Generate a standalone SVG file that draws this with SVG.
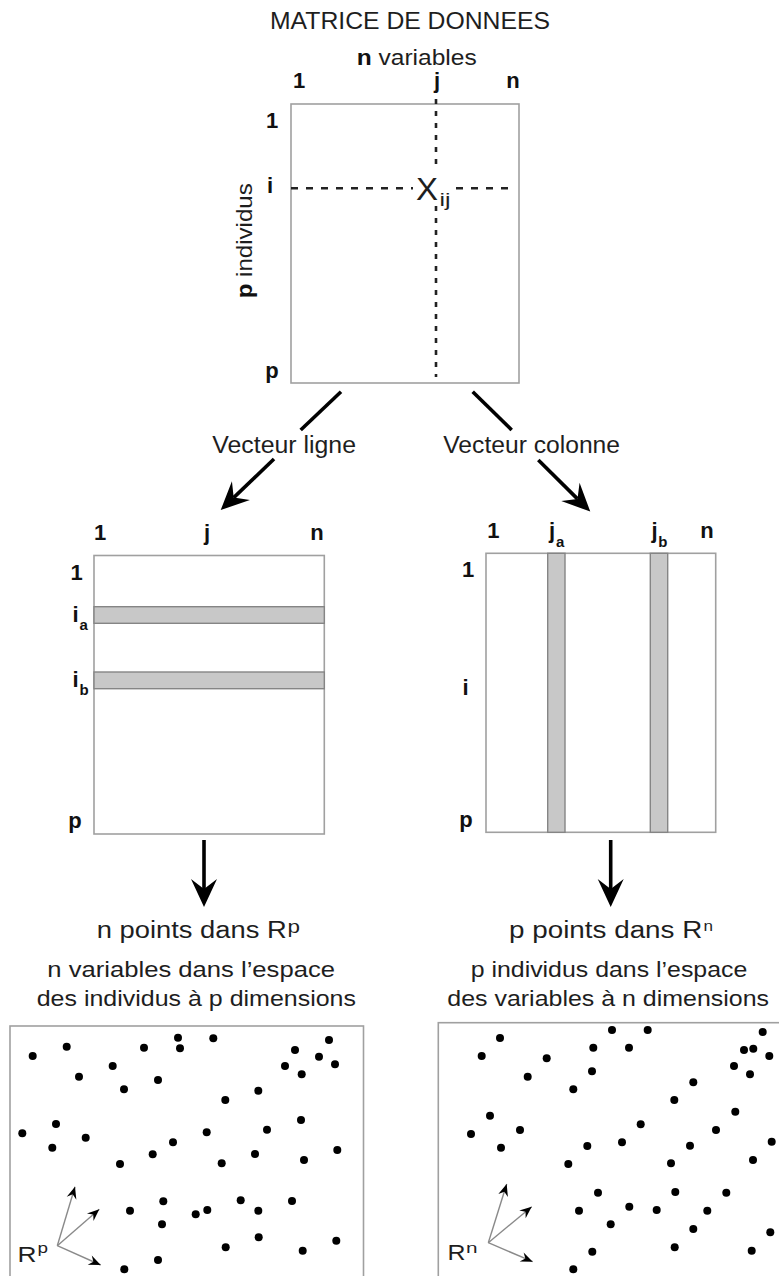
<svg xmlns="http://www.w3.org/2000/svg" width="779" height="1276" viewBox="0 0 779 1276">
<style>
text{font-family:"Liberation Sans",Arial,sans-serif;fill:#1e1e1e}
.b{font-weight:bold;fill:#111}
.lbl{font-size:22px}
.mid{text-anchor:middle}
.box{fill:#fff;stroke:#a0a0a0;stroke-width:1.6}
.stripe{fill:#c8c8c8;stroke:#858585;stroke-width:1.4}
.arrow{stroke:#000;stroke-width:3.6;fill:none}
.axis{stroke:#8a8a8a;stroke-width:1.4;fill:none}
.dash{stroke:#222;stroke-width:2.6;fill:none}
.dot{fill:#000}
</style>
<defs>
<marker id="big" markerUnits="userSpaceOnUse" markerWidth="40" markerHeight="30" viewBox="-12 -15 32 30" refX="0" refY="0" orient="auto" overflow="visible">
<path d="M-10,-13 L18,0 L-10,13 L0,0 Z" fill="#000"/>
</marker>
<marker id="small" markerUnits="userSpaceOnUse" markerWidth="16" markerHeight="12" viewBox="-13 -6 15 12" refX="0" refY="0" orient="auto" overflow="visible">
<path d="M0,0 L-12,-5 L-8,0 L-12,5 Z" fill="#000"/>
</marker>
</defs>
<rect width="779" height="1276" fill="#fff"/>

<g id="title">
<text x="270" y="28.5" font-size="23" textLength="280" lengthAdjust="spacingAndGlyphs">MATRICE DE DONNEES</text>
</g>

<g id="data-matrix">
<text x="356.7" y="65" font-size="22.5" textLength="120" lengthAdjust="spacingAndGlyphs"><tspan class="b">n</tspan> variables</text>
<rect class="box" x="291" y="104" width="228" height="279"/>
<text class="b lbl mid" x="299" y="88">1</text>
<text class="b lbl mid" x="437" y="88">j</text>
<text class="b lbl mid" x="513" y="88">n</text>
<text class="b lbl mid" x="272" y="128">1</text>
<text class="b lbl mid" x="270" y="193">i</text>
<text class="b lbl mid" x="272" y="378">p</text>
<text transform="translate(252,298.3) rotate(-90)" font-size="22.5" textLength="115" lengthAdjust="spacingAndGlyphs"><tspan class="b">p</tspan> individus</text>
<path class="dash" d="M291,188.3 H413 M456,188.3 H515" stroke-dasharray="7 8"/>
<path class="dash" d="M436,99 V167 M436,206 V377" stroke-dasharray="5 7"/>
<text x="416" y="200" font-size="31" textLength="22" lengthAdjust="spacingAndGlyphs">X</text>
<text x="439.5" y="206" font-size="18" textLength="11" lengthAdjust="spacingAndGlyphs">ij</text>
</g>

<g id="connectors">
<line class="arrow" x1="341" y1="391.7" x2="300.7" y2="430"/>
<line class="arrow" x1="472.7" y1="391.7" x2="511.7" y2="430"/>
<line class="arrow" x1="274" y1="459" x2="233.7" y2="497.6" marker-end="url(#big)"/>
<line class="arrow" x1="538.3" y1="460" x2="577.5" y2="498.9" marker-end="url(#big)"/>
<line class="arrow" x1="204" y1="840" x2="204" y2="889" marker-end="url(#big)"/>
<line class="arrow" x1="610.7" y1="840" x2="610.7" y2="889" marker-end="url(#big)"/>
</g>

<g id="label-vecteur-ligne">
<text x="212.3" y="453" font-size="23" textLength="143.7" lengthAdjust="spacingAndGlyphs">Vecteur ligne</text>
</g>
<g id="label-vecteur-colonne">
<text x="443.3" y="453" font-size="23" textLength="176.7" lengthAdjust="spacingAndGlyphs">Vecteur colonne</text>
</g>

<g id="row-matrix">
<rect class="box" x="94" y="555.5" width="230.3" height="278.5"/>
<rect class="stripe" x="94" y="606.7" width="230.3" height="16.6"/>
<rect class="stripe" x="94" y="672" width="230.3" height="16.7"/>
<text class="b lbl mid" x="100" y="540">1</text>
<text class="b lbl mid" x="207" y="540">j</text>
<text class="b lbl mid" x="317" y="540">n</text>
<text class="b lbl mid" x="76.5" y="580">1</text>
<text class="b lbl mid" x="75.5" y="621.7">i</text>
<text class="b" x="79.5" y="630" font-size="15">a</text>
<text class="b lbl mid" x="75.5" y="686.7">i</text>
<text class="b" x="79.5" y="695" font-size="15">b</text>
<text class="b lbl mid" x="75" y="828">p</text>
</g>

<g id="column-matrix">
<rect class="box" x="486" y="553.3" width="229.7" height="279"/>
<rect class="stripe" x="547.7" y="553.3" width="17.3" height="279"/>
<rect class="stripe" x="650.3" y="553.3" width="17.4" height="279"/>
<text class="b lbl mid" x="493.3" y="538.3">1</text>
<text class="b lbl mid" x="552" y="538.3">j</text>
<text class="b" x="556" y="547.3" font-size="15">a</text>
<text class="b lbl mid" x="654.5" y="538.3">j</text>
<text class="b" x="658.3" y="547.3" font-size="15">b</text>
<text class="b lbl mid" x="707" y="538.3">n</text>
<text class="b lbl mid" x="468" y="576.7">1</text>
<text class="b lbl mid" x="465.5" y="695">i</text>
<text class="b lbl mid" x="466" y="826.7">p</text>
</g>

<g id="caption-left">
<text x="96.7" y="938.3" font-size="23.5" textLength="190" lengthAdjust="spacingAndGlyphs">n points dans R</text>
<text x="287.5" y="932.5" font-size="18" textLength="12.5" lengthAdjust="spacingAndGlyphs">p</text>
<text x="47.3" y="976.7" font-size="21.5" textLength="287.7" lengthAdjust="spacingAndGlyphs">n variables dans l’espace</text>
<text x="36.7" y="1006.3" font-size="21.5" textLength="319.3" lengthAdjust="spacingAndGlyphs">des individus à p dimensions</text>
</g>

<g id="caption-right">
<text x="509" y="938.3" font-size="23.5" textLength="193.3" lengthAdjust="spacingAndGlyphs">p points dans R</text>
<text x="703.5" y="931" font-size="15" textLength="9.5" lengthAdjust="spacingAndGlyphs">n</text>
<text x="470.7" y="976.7" font-size="21.5" textLength="276.6" lengthAdjust="spacingAndGlyphs">p individus dans l’espace</text>
<text x="447.3" y="1005.7" font-size="21.5" textLength="321.7" lengthAdjust="spacingAndGlyphs">des variables à n dimensions</text>
</g>

<g id="scatter-rp">
<rect class="box" x="10" y="1026" width="353.5" height="270"/>
<g class="dot">
<circle cx="32.7" cy="1056" r="4"/><circle cx="66.7" cy="1046.7" r="4"/><circle cx="79" cy="1076.7" r="4"/><circle cx="112.7" cy="1066" r="4"/>
<circle cx="124" cy="1089.3" r="4"/><circle cx="144" cy="1047.7" r="4"/><circle cx="158" cy="1080" r="4"/><circle cx="178" cy="1037.7" r="4"/>
<circle cx="180" cy="1048.3" r="4"/><circle cx="213.3" cy="1038.3" r="4"/><circle cx="225.3" cy="1100" r="4"/><circle cx="258.3" cy="1090.7" r="4"/>
<circle cx="285" cy="1066" r="4"/><circle cx="295" cy="1050" r="4"/><circle cx="301.7" cy="1074.3" r="4"/><circle cx="319" cy="1056.7" r="4"/>
<circle cx="329" cy="1040" r="4"/><circle cx="335" cy="1064.3" r="4"/><circle cx="22.3" cy="1133.3" r="4"/><circle cx="56" cy="1124" r="4"/>
<circle cx="52.3" cy="1147.7" r="4"/><circle cx="85.7" cy="1137.7" r="4"/><circle cx="120" cy="1164" r="4"/><circle cx="152.7" cy="1154.3" r="4"/>
<circle cx="173" cy="1142.3" r="4"/><circle cx="206.7" cy="1132.3" r="4"/><circle cx="221.7" cy="1163.3" r="4"/><circle cx="255" cy="1154" r="4"/>
<circle cx="267" cy="1129.7" r="4"/><circle cx="301" cy="1120" r="4"/><circle cx="304" cy="1160" r="4"/><circle cx="337.3" cy="1150" r="4"/>
<circle cx="163.3" cy="1201.3" r="4"/><circle cx="130" cy="1210.7" r="4"/><circle cx="162" cy="1224.3" r="4"/><circle cx="195.7" cy="1214.3" r="4"/>
<circle cx="207.3" cy="1210" r="4"/><circle cx="240.7" cy="1200.3" r="4"/><circle cx="258.3" cy="1210.7" r="4"/><circle cx="292" cy="1201" r="4"/>
<circle cx="258.7" cy="1237.3" r="4"/><circle cx="225.7" cy="1247.3" r="4"/><circle cx="302.7" cy="1250.7" r="4"/><circle cx="336.3" cy="1240.7" r="4"/>
<circle cx="158" cy="1260" r="4"/><circle cx="124.3" cy="1269.3" r="4"/>
</g>
<line class="axis" x1="57.3" y1="1245.7" x2="75" y2="1186.7" marker-end="url(#small)"/>
<line class="axis" x1="57.3" y1="1245.7" x2="99.3" y2="1209.3" marker-end="url(#small)"/>
<line class="axis" x1="57.3" y1="1245.7" x2="100.7" y2="1265" marker-end="url(#small)"/>
<text x="17.5" y="1262" font-size="22" textLength="19" lengthAdjust="spacingAndGlyphs">R</text>
<text x="37.5" y="1252.5" font-size="14.5" textLength="10.5" lengthAdjust="spacingAndGlyphs">p</text>
</g>

<g id="scatter-rn">
<rect class="box" x="438.3" y="1022.7" width="360" height="270"/>
<g class="dot">
<circle cx="481.7" cy="1056" r="4"/><circle cx="500" cy="1038" r="4"/><circle cx="527.7" cy="1076.7" r="4"/><circle cx="546.7" cy="1058.3" r="4"/>
<circle cx="573.3" cy="1089.3" r="4"/><circle cx="592" cy="1071.3" r="4"/><circle cx="593.3" cy="1047.7" r="4"/><circle cx="612" cy="1030" r="4"/>
<circle cx="629" cy="1047.7" r="4"/><circle cx="647.7" cy="1030" r="4"/><circle cx="674.3" cy="1100" r="4"/><circle cx="693.3" cy="1082.3" r="4"/>
<circle cx="734" cy="1066" r="4"/><circle cx="744" cy="1050" r="4"/><circle cx="753.3" cy="1048.7" r="4"/><circle cx="750" cy="1074.3" r="4"/>
<circle cx="762.7" cy="1032" r="4"/><circle cx="769.3" cy="1056" r="4"/><circle cx="471" cy="1134" r="4"/><circle cx="490" cy="1115.7" r="4"/>
<circle cx="501" cy="1147.7" r="4"/><circle cx="520" cy="1130" r="4"/><circle cx="568.3" cy="1164" r="4"/><circle cx="587.3" cy="1146" r="4"/>
<circle cx="622" cy="1142.3" r="4"/><circle cx="640.7" cy="1124.3" r="4"/><circle cx="671" cy="1163.3" r="4"/><circle cx="690" cy="1145.7" r="4"/>
<circle cx="716" cy="1130" r="4"/><circle cx="735.3" cy="1111.7" r="4"/><circle cx="753" cy="1160" r="4"/><circle cx="771.7" cy="1141.7" r="4"/>
<circle cx="598" cy="1192.7" r="4"/><circle cx="579" cy="1210.7" r="4"/><circle cx="610.7" cy="1224.3" r="4"/><circle cx="629.3" cy="1206.7" r="4"/>
<circle cx="656.7" cy="1210" r="4"/><circle cx="675.3" cy="1192" r="4"/><circle cx="707.3" cy="1210.7" r="4"/><circle cx="726.3" cy="1192.7" r="4"/>
<circle cx="693.3" cy="1229" r="4"/><circle cx="674.7" cy="1247.3" r="4"/><circle cx="751.7" cy="1250.7" r="4"/><circle cx="770.3" cy="1232.3" r="4"/>
<circle cx="592.3" cy="1251.7" r="4"/><circle cx="573.3" cy="1269.3" r="4"/>
</g>
<line class="axis" x1="488.3" y1="1242.7" x2="506.7" y2="1184" marker-end="url(#small)"/>
<line class="axis" x1="488.3" y1="1242.7" x2="531.7" y2="1206.7" marker-end="url(#small)"/>
<line class="axis" x1="488.3" y1="1242.7" x2="532.7" y2="1261.7" marker-end="url(#small)"/>
<text x="447.5" y="1260" font-size="22" textLength="18" lengthAdjust="spacingAndGlyphs">R</text>
<text x="466" y="1252.5" font-size="15" textLength="11.5" lengthAdjust="spacingAndGlyphs">n</text>
</g>
</svg>
